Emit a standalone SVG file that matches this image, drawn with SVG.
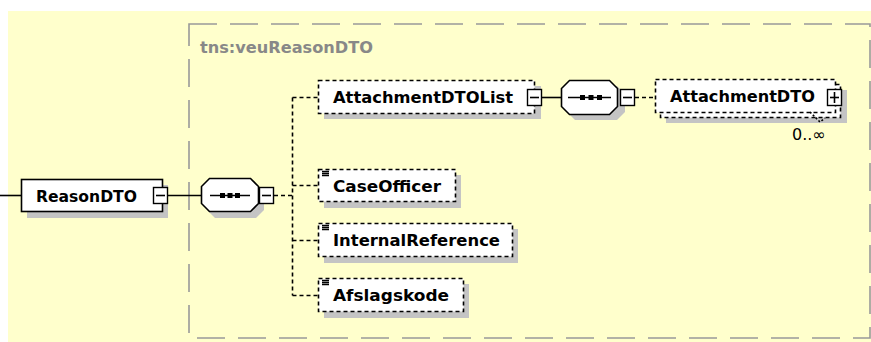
<svg xmlns="http://www.w3.org/2000/svg" width="871" height="342" viewBox="0 0 871 342">
<style>
.bg{fill:#FFFFCC}
.grp{fill:none;stroke:#999;stroke-width:1.6;stroke-dasharray:28 13}
.sh{fill:#C4C4C4;stroke:none}
.box{fill:#fff;stroke:#000;stroke-width:1.6}
.dbox{fill:#fff;stroke:#000;stroke-width:1.6;stroke-dasharray:4 3}
.btn{fill:#fff;stroke:#000;stroke-width:1.4}
.ln{stroke:#000;stroke-width:1.6;fill:none}
.dl{stroke:#000;stroke-width:1.6;fill:none;stroke-dasharray:4 3}
.t{font-family:"DejaVu Sans",Verdana,sans-serif;font-weight:bold;font-size:16px;fill:#000}
.tg{font-family:"DejaVu Sans",Verdana,sans-serif;font-weight:bold;font-size:16px;fill:#888}
.occ{font-family:"DejaVu Sans",Verdana,sans-serif;font-size:16px;fill:#000}
</style>
<rect class="bg" x="8" y="11" width="863" height="331"/>
<g id="group-veuReasonDTO">
<rect class="grp" x="189" y="24" width="681" height="314"/>
<text class="tg" x="200" y="53" textLength="173" lengthAdjust="spacingAndGlyphs">tns:veuReasonDTO</text>
</g>
<g id="connectors">
<line class="ln" x1="0" y1="195.5" x2="21" y2="195.5"/>
<line class="ln" x1="168" y1="195.5" x2="201" y2="195.5"/>
<line class="dl" x1="274" y1="195.5" x2="292.5" y2="195.5"/>
<line class="dl" x1="292.5" y1="97.5" x2="292.5" y2="295.5"/>
<line class="dl" x1="292.5" y1="97.5" x2="318" y2="97.5"/>
<line class="dl" x1="292.5" y1="185.5" x2="318" y2="185.5"/>
<line class="dl" x1="292.5" y1="240.5" x2="318" y2="240.5"/>
<line class="dl" x1="292.5" y1="295.5" x2="318" y2="295.5"/>
<line class="ln" x1="542" y1="97.5" x2="561" y2="97.5"/>
<line class="dl" x1="635" y1="97.5" x2="655" y2="97.5"/>
</g>
<g id="node-ReasonDTO">
<rect class="sh" x="27" y="185" width="141" height="33"/>
<rect class="box" x="21.5" y="179.5" width="141" height="32"/>
<text class="t" x="36" y="201.5" textLength="101" lengthAdjust="spacingAndGlyphs">ReasonDTO</text>
<rect class="btn" x="153.5" y="187.5" width="14" height="16"/>
<line class="ln" x1="156" y1="195.5" x2="165" y2="195.5"/>
</g>
<g id="node-sequence1">
<polygon class="sh" points="215,185 256,185 264,193 264,210 256,218 215,218 207,210 207,193"/>
<polygon class="box" points="209.5,178.5 250.5,178.5 258.5,186.5 258.5,203.5 250.5,211.5 209.5,211.5 201.5,203.5 201.5,186.5"/>
<line class="ln" x1="210" y1="195.5" x2="250" y2="195.5"/>
<rect x="220" y="193" width="5" height="5" fill="#000"/>
<rect x="227.5" y="193" width="5" height="5" fill="#000"/>
<rect x="235" y="193" width="5" height="5" fill="#000"/>
<rect class="btn" x="259.5" y="187.5" width="14" height="16"/>
<line class="ln" x1="262" y1="195.5" x2="271" y2="195.5"/>
</g>
<g id="node-AttachmentDTOList">
<rect class="sh" x="324" y="86" width="217" height="33"/>
<rect class="dbox" x="318.5" y="80.5" width="216" height="33"/>
<text class="t" x="333" y="103" textLength="180" lengthAdjust="spacingAndGlyphs">AttachmentDTOList</text>
<rect class="btn" x="527.5" y="89.5" width="14" height="16"/>
<line class="ln" x1="530" y1="97.5" x2="539" y2="97.5"/>
</g>
<g id="node-sequence2">
<polygon class="sh" points="575,86 617,86 625,94 625,112 617,120 575,120 567,112 567,94"/>
<polygon class="box" points="569.5,80.5 609.5,80.5 617.5,88.5 617.5,106.5 609.5,114.5 569.5,114.5 561.5,106.5 561.5,88.5"/>
<line class="ln" x1="568" y1="97.5" x2="611" y2="97.5"/>
<rect x="580" y="95" width="5" height="5" fill="#000"/>
<rect x="588.5" y="95" width="5" height="5" fill="#000"/>
<rect x="597" y="95" width="5" height="5" fill="#000"/>
<rect class="btn" x="620.5" y="89.5" width="14" height="16"/>
<line class="ln" x1="623" y1="97.5" x2="632" y2="97.5"/>
</g>
<g id="node-AttachmentDTO">
<rect class="sh" x="666" y="90" width="181" height="33"/>
<rect class="dbox" x="660.5" y="84.5" width="180" height="33"/>
<rect class="dbox" x="655.5" y="79.5" width="180" height="33"/>
<text class="t" x="670" y="101.5" textLength="145" lengthAdjust="spacingAndGlyphs">AttachmentDTO</text>
<rect class="btn" x="827.5" y="89.5" width="14" height="16"/>
<line class="ln" x1="830" y1="97.5" x2="839" y2="97.5"/>
<line class="ln" x1="834.5" y1="92" x2="834.5" y2="103"/>
<polyline class="ln" points="810,112 820,122 825,118" stroke-dasharray="2 2"/>
<text class="occ" x="792" y="140">0..∞</text>
</g>
<g id="node-CaseOfficer">
<rect class="sh" x="324" y="175" width="137" height="33"/>
<rect class="dbox" x="318.5" y="169.5" width="137" height="32"/>
<path class="ln" d="M322 171.5H329M322 173.5H329M322 175.5H329" stroke-width="1"/>
<text class="t" x="333" y="191.5" textLength="108" lengthAdjust="spacingAndGlyphs">CaseOfficer</text>
</g>
<g id="node-InternalReference">
<rect class="sh" x="324" y="229" width="194" height="34"/>
<rect class="dbox" x="318.5" y="223.5" width="194" height="33"/>
<path class="ln" d="M322 225.5H329M322 227.5H329M322 229.5H329" stroke-width="1"/>
<text class="t" x="333" y="246" textLength="167" lengthAdjust="spacingAndGlyphs">InternalReference</text>
</g>
<g id="node-Afslagskode">
<rect class="sh" x="324" y="284" width="145" height="34"/>
<rect class="dbox" x="318.5" y="278.5" width="145" height="33"/>
<path class="ln" d="M322 280.5H329M322 282.5H329M322 284.5H329" stroke-width="1"/>
<text class="t" x="333" y="301" textLength="116" lengthAdjust="spacingAndGlyphs">Afslagskode</text>
</g>
</svg>
